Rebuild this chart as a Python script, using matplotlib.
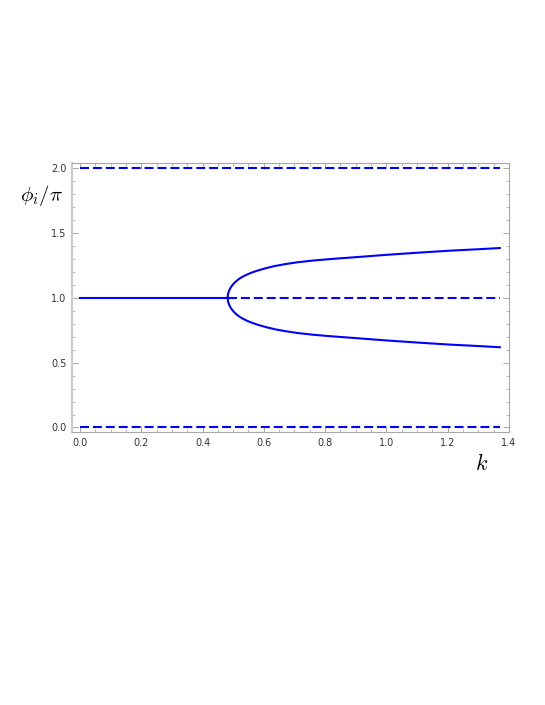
import matplotlib
matplotlib.use("Agg")
import matplotlib.pyplot as plt
from matplotlib.ticker import MultipleLocator

plt.rcParams["mathtext.fontset"] = "cm"

# stable branch before the bifurcation
k_flat = [0.0, 0.482]
phi_flat = [1.0, 1.0]

# upper branch after the bifurcation (lower branch mirrors it around 1)
k_branch = [0.482, 0.483, 0.485, 0.488, 0.492, 0.497, 0.504, 0.512, 0.522, 0.534,
            0.548, 0.564, 0.582, 0.607, 0.637, 0.672, 0.712, 0.762, 0.822, 0.902,
            1.002, 1.102, 1.202, 1.302, 1.370]
phi_upper = [1.000, 1.025, 1.043, 1.060, 1.078, 1.095, 1.114, 1.131, 1.149, 1.165,
             1.181, 1.196, 1.210, 1.227, 1.244, 1.259, 1.273, 1.286, 1.298, 1.312,
             1.330, 1.346, 1.361, 1.373, 1.382]
phi_lower = [2.0 - v for v in phi_upper]

# unstable (dashed) lines
k_dash_mid = [0.482, 1.370]
k_dash = [0.0, 1.370]
phi_top = [2.0, 2.0]
phi_mid = [1.0, 1.0]
phi_bot = [0.0, 0.0]

blue = "#0000ff"
fig = plt.figure(figsize=(5.45, 7.05), dpi=100)
ax = fig.add_axes([0.132, 0.387, 0.802, 0.382])

ax.plot(k_flat, phi_flat, color=blue, lw=1.5)
ax.plot(k_branch, phi_upper, color=blue, lw=1.5)
ax.plot(k_branch, phi_lower, color=blue, lw=1.5)
for xs, ys in [(k_dash, phi_top), (k_dash_mid, phi_mid), (k_dash, phi_bot)]:
    ax.plot(xs, ys, color=blue, lw=1.5, dashes=(4.3, 1.9))

ax.set_xlim(-0.026, 1.4)
ax.set_ylim(-0.036, 2.038)
ax.xaxis.set_major_locator(MultipleLocator(0.2))
ax.xaxis.set_minor_locator(MultipleLocator(0.05))
ax.yaxis.set_major_locator(MultipleLocator(0.5))
ax.yaxis.set_minor_locator(MultipleLocator(0.1))
ax.xaxis.set_major_formatter(lambda v, p: f"{v:.1f}")
ax.yaxis.set_major_formatter(lambda v, p: f"{v:.1f}")

ax.tick_params(which="both", direction="in", top=True, right=True,
               color="#999999", labelsize=7, labelcolor="#333333")
ax.tick_params(which="major", length=4, width=0.6, pad=4)
ax.tick_params(which="minor", length=2.2, width=0.5)
ax.tick_params(axis="x", which="both", labeltop=False)
ax.tick_params(axis="y", which="both", labelright=False)

for side in ["top", "right", "bottom"]:
    ax.spines[side].set_color("#a8a8a8")
    ax.spines[side].set_linewidth(0.8)
ax.spines["left"].set_color("#cccccc")
ax.spines["left"].set_linewidth(1.6)

fig.text(20 / 545, 1 - 195 / 705, r"$\phi_i/\pi$", fontsize=15, va="center", ha="left")
fig.text(482 / 545, 1 - 463 / 705, r"$k$", fontsize=16, va="center", ha="center")

fig.savefig("out.png", dpi=100)
